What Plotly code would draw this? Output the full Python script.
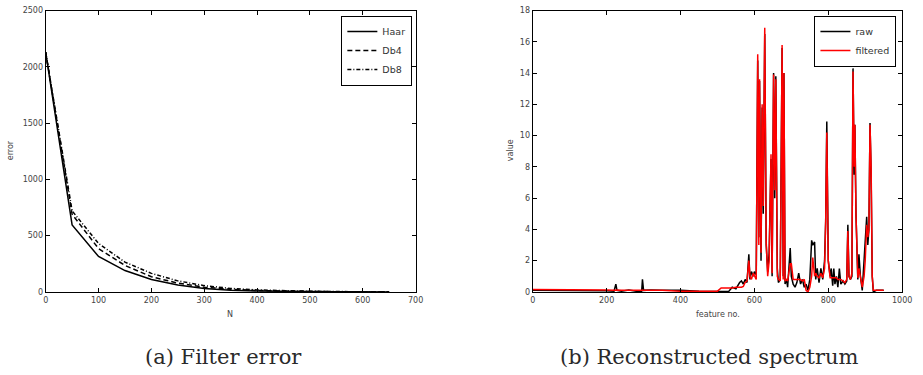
import plotly.graph_objects as go

# ---- Left panel data: filter error vs N ----
N_VALUES = [0, 50, 100, 150, 200, 250, 300, 350, 400, 450, 500, 550, 600, 650]
HAAR_ERR = [2130, 595, 315, 190, 110, 62, 30, 15, 8, 4, 2, 1, 0.5, 0]
DB4_ERR = [2130, 690, 385, 235, 135, 78, 42, 23, 13, 7, 4, 2, 1, 0.5]
DB8_ERR = [2130, 720, 430, 265, 165, 98, 56, 31, 18, 10, 6, 3, 2, 1]

# ---- Right panel data: reconstructed spectrum ----
FEATURE_NO = [0, 100, 200, 220, 225, 228, 240, 260, 280, 295, 297, 300, 320, 350, 400, 450, 500,
              510, 530, 540, 550, 560, 565, 570, 575, 580, 585, 588, 592, 597, 600, 605, 609, 612,
              614, 618, 621, 624, 628, 632, 636, 640, 645, 648, 652, 655, 658, 662, 665, 670, 673,
              675, 678, 680, 683, 687, 690, 697, 700, 705, 710, 715, 720, 725, 730, 735, 740, 745,
              750, 755, 758, 763, 766, 770, 775, 780, 785, 790, 793, 796, 800, 805, 808, 812, 815,
              818, 822, 826, 830, 834, 840, 845, 850, 853, 856, 860, 864, 867, 870, 872, 875, 880,
              883, 887, 892, 897, 900, 904, 907, 910, 913, 916, 919, 922, 930, 950]
RAW = [0.1, 0.1, 0.08, 0.05, 0.5, 0.1, 0.05, 0.12, 0.05, 0.05, 0.8, 0.1, 0.12, 0.1, 0.1, 0.05, 0.05,
       0.05, 0.02, 0.3, 0.2, 0.6, 0.7, 0.5, 0.8, 0.6, 2.4, 0.8, 1.3, 1.0, 1.3, 1.1, 14.8, 3.5,
       13.5, 2.0, 11.8, 5.0, 16.5, 3.0, 1.3, 2.5, 8.5, 1.0, 14.0, 6.0, 13.8, 1.5, 0.6, 0.8, 9.0,
       15.6, 1.0, 14.0, 0.5, 0.8, 0.3, 2.8, 1.0, 0.5, 0.3, 0.6, 1.2, 0.5, 0.8, 0.3, 0.5, 0.1,
       0.8, 3.3, 3.0, 3.2, 0.8, 1.5, 0.6, 1.5, 0.8, 2.0, 4.5, 10.9, 2.0, 1.0, 1.5, 0.4, 1.5,
       0.5, 1.0, 0.3, 1.5, 0.5, 0.7, 0.5, 0.7, 4.3, 1.0, 0.8, 1.0, 14.3, 7.5, 10.7, 5.0, 0.8,
       2.4, 1.0, 0.1, 2.3, 3.0, 4.8, 3.0, 4.0, 10.8, 7.5, 1.0, 0.0, 0.1, 0.1]
FILTERED = [0.15, 0.15, 0.12, 0.1, 0.12, 0.12, 0.1, 0.1, 0.1, 0.1, 0.12, 0.12, 0.1, 0.1, 0.05, 0.05, 0.05,
            0.25, 0.25, 0.25, 0.3, 0.3, 0.3, 0.35, 0.6, 0.7, 2.0, 1.0, 0.8, 1.2, 1.0, 0.8, 15.2, 3.0,
            13.6, 2.5, 12.0, 5.5, 16.9, 3.2, 1.0, 2.0, 8.8, 1.2, 13.9, 6.5, 13.6, 1.0, 0.8, 0.7, 9.5,
            15.8, 0.8, 14.0, 0.7, 0.8, 0.7, 1.8, 1.8, 0.8, 0.8, 0.8, 0.8, 0.8, 0.7, 0.8, 0.1, 0.0,
            0.3, 1.0, 2.2, 1.0, 1.2, 1.0, 0.9, 1.2, 0.9, 1.5, 4.5, 10.2, 2.0, 0.9, 0.9, 0.9, 0.9,
            0.9, 0.9, 0.8, 0.8, 0.8, 0.7, 0.6, 0.8, 3.9, 1.0, 0.8, 1.2, 14.1, 8.0, 10.7, 5.0, 0.9,
            1.5, 1.0, 0.3, 1.0, 2.0, 4.3, 3.5, 4.0, 10.7, 8.0, 1.0, 0.1, 0.1, 0.1]

LEFT_XTICKS = [0, 100, 200, 300, 400, 500, 600, 700]
LEFT_YTICKS = [0, 500, 1000, 1500, 2000, 2500]
RIGHT_XTICKS = [0, 200, 400, 600, 800, 1000]
RIGHT_YTICKS = [0, 2, 4, 6, 8, 10, 12, 14, 16, 18]

W, H = 923, 375
def px_x(p):
    return p / W
def px_y(p):
    return 1 - p / H

fig = go.Figure()

fig.add_trace(go.Scatter(x=N_VALUES, y=HAAR_ERR, mode="lines", name="Haar",
                         line=dict(color="black", width=1.5, dash="solid"),
                         xaxis="x", yaxis="y", legend="legend"))
fig.add_trace(go.Scatter(x=N_VALUES, y=DB4_ERR, mode="lines", name="Db4",
                         line=dict(color="black", width=1.5, dash="5px,3px"),
                         xaxis="x", yaxis="y", legend="legend"))
fig.add_trace(go.Scatter(x=N_VALUES, y=DB8_ERR, mode="lines", name="Db8",
                         line=dict(color="black", width=1.5, dash="4px,2px,1px,2px"),
                         xaxis="x", yaxis="y", legend="legend"))

fig.add_trace(go.Scatter(x=FEATURE_NO, y=RAW, mode="lines", name="raw",
                         line=dict(color="black", width=1.5),
                         xaxis="x2", yaxis="y2", legend="legend2"))
fig.add_trace(go.Scatter(x=FEATURE_NO, y=FILTERED, mode="lines", name="filtered",
                         line=dict(color="red", width=1.5),
                         xaxis="x2", yaxis="y2", legend="legend2"))

tickfont = dict(family="DejaVu Sans", size=8, color="#444")
axis_common = dict(showline=True, linecolor="black", linewidth=1.2, mirror="ticks",
                   ticks="inside", ticklen=4, tickcolor="black", tickwidth=1,
                   showgrid=False, zeroline=False, tickfont=tickfont)

ydom = [px_y(295), px_y(6.7)]
legend_common = dict(xanchor="right", yanchor="top", bordercolor="black", borderwidth=1.2,
                     bgcolor="white", font=dict(family="DejaVu Sans", size=9.5, color="#333"),
                     tracegroupgap=0, itemwidth=30)
fig.update_layout(
    width=W, height=H,
    margin=dict(l=0, r=0, t=0, b=0),
    paper_bgcolor="white", plot_bgcolor="white",
    xaxis=dict(domain=[px_x(43.3), px_x(418.5)], range=[0, 700], tickvals=LEFT_XTICKS,
               anchor="y", **axis_common),
    yaxis=dict(domain=ydom, range=[0, 2500], tickvals=LEFT_YTICKS, anchor="x", **axis_common),
    xaxis2=dict(domain=[px_x(537.3), px_x(912)], range=[0, 1000], tickvals=RIGHT_XTICKS,
                anchor="y2", **axis_common),
    yaxis2=dict(domain=ydom, range=[0, 18], tickvals=RIGHT_YTICKS, anchor="x2", **axis_common),
    legend=dict(x=px_x(415), y=px_y(12), **legend_common),
    legend2=dict(x=px_x(906), y=px_y(12), **legend_common),
    showlegend=True,
)

label_font = dict(family="DejaVu Sans", size=8, color="#444")
def label(text, x, y, angle=0, font=label_font):
    fig.add_annotation(text=text, x=px_x(x), y=px_y(y), xref="paper", yref="paper",
                       xanchor="center", yanchor="middle", showarrow=False,
                       textangle=angle, font=font)

label("N", 230, 318)
label("error", 8, 150, -90)
label("feature no.", 725, 318)
label("value", 515, 150, -90)

cap_font = dict(family="DejaVu Serif", size=21, color="#2a2a2a")
label("(a) Filter error", 224, 362, font=cap_font)
label("(b) Reconstructed spectrum", 717, 362, font=cap_font)

fig.write_html("out.html")
